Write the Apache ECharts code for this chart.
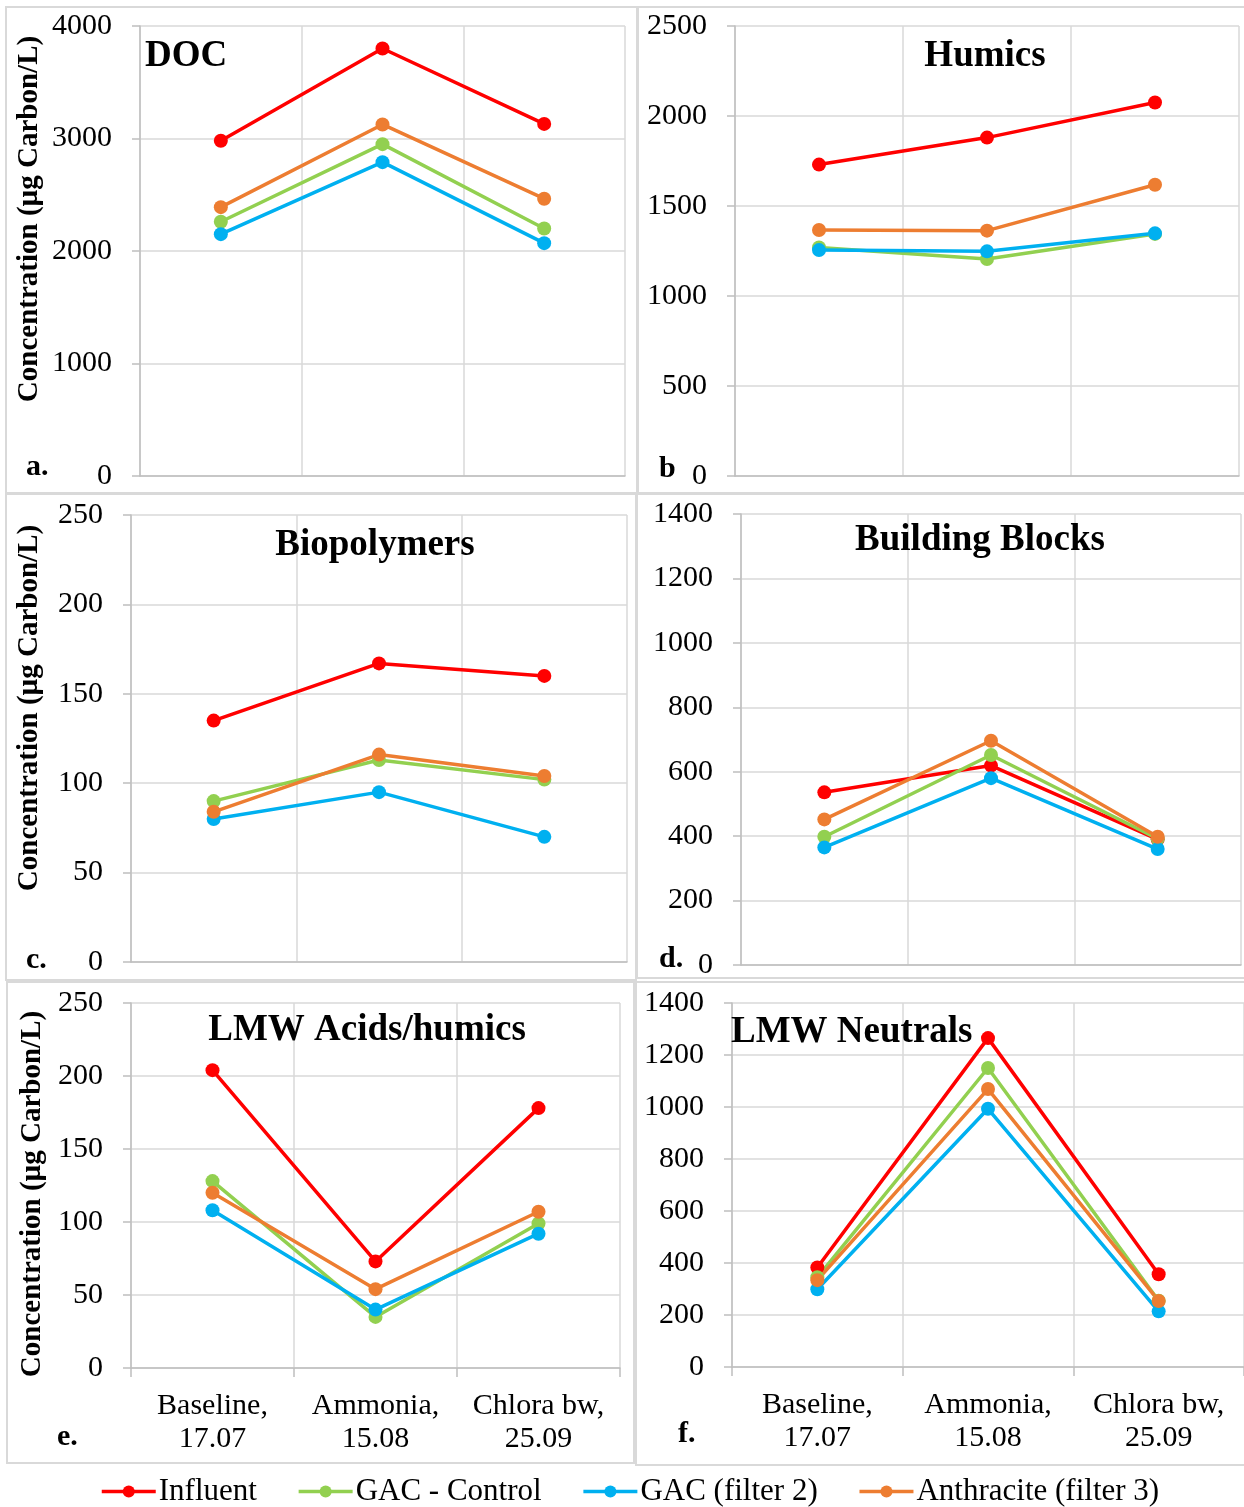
<!DOCTYPE html>
<html>
<head>
<meta charset="utf-8">
<script src="https://cdn.jsdelivr.net/npm/echarts/dist/echarts.min.js"></script>
<style>
  html, body { margin: 0; padding: 0; background: #fff; }
  #chart { width: 1244px; height: 1507px; }
</style>
</head>
<body>
<div id="chart"></div>
<script>
// ---------------- data ----------------
const categories = ['Baseline, 17.07', 'Ammonia, 15.08', 'Chlora bw, 25.09'];
const seriesNames = ['Influent', 'GAC - Control', 'GAC (filter 2)', 'Anthracite (filter 3)'];
const seriesColors = ['#FF0000', '#92D050', '#00B0F0', '#ED7D31'];

const panelTitles = ['DOC', 'Humics', 'Biopolymers', 'Building Blocks', 'LMW Acids/humics', 'LMW Neutrals'];
const panelLetters = ['a.', 'b', 'c.', 'd.', 'e.', 'f.'];
const yAxisTitle = 'Concentration (µg Carbon/L)';

const axisMax = [4000, 2500, 250, 1400, 250, 1400];
const axisInterval = [1000, 500, 50, 200, 50, 200];

// DOC
const docInfluent = [2980, 3800, 3130];
const docGacControl = [2260, 2950, 2200];
const docGacFilter2 = [2150, 2790, 2070];
const docAnthracite = [2390, 3125, 2465];
// Humics
const humInfluent = [1730, 1880, 2075];
const humGacControl = [1270, 1205, 1345];
const humGacFilter2 = [1255, 1248, 1348];
const humAnthracite = [1367, 1363, 1618];
// Biopolymers
const bioInfluent = [135, 167, 160];
const bioGacControl = [90, 113, 102];
const bioGacFilter2 = [80, 95, 70];
const bioAnthracite = [84, 116, 104];
// Building Blocks
const bbInfluent = [536, 619, 390];
const bbGacControl = [398, 652, 392];
const bbGacFilter2 = [365, 580, 360];
const bbAnthracite = [452, 696, 398];
// LMW Acids/humics
const acidInfluent = [204, 73, 178];
const acidGacControl = [128, 35, 99];
const acidGacFilter2 = [108, 40, 92];
const acidAnthracite = [120, 54, 107];
// LMW Neutrals
const neuInfluent = [383, 1265, 357];
const neuGacControl = [345, 1150, 255];
const neuGacFilter2 = [299, 993, 214];
const neuAnthracite = [334, 1069, 254];

const panelData = [
  [docInfluent, docGacControl, docGacFilter2, docAnthracite],
  [humInfluent, humGacControl, humGacFilter2, humAnthracite],
  [bioInfluent, bioGacControl, bioGacFilter2, bioAnthracite],
  [bbInfluent, bbGacControl, bbGacFilter2, bbAnthracite],
  [acidInfluent, acidGacControl, acidGacFilter2, acidAnthracite],
  [neuInfluent, neuGacControl, neuGacFilter2, neuAnthracite]
];

// ---------------- layout ----------------
const FONT = '"Liberation Serif", "Times New Roman", serif';
const grids = [
  { left: 140, top: 26, width: 485, height: 450 },
  { left: 735, top: 26, width: 504, height: 450 },
  { left: 131, top: 515, width: 496, height: 447 },
  { left: 741, top: 514, width: 500, height: 451 },
  { left: 131, top: 1003, width: 489, height: 365 },
  { left: 732, top: 1003, width: 512, height: 364 }
];
const showXLabels = [false, false, false, false, true, true];

const panelBoxes = [
  { x: 6, y: 7, w: 631, h: 486 },
  { x: 638, y: 7, w: 610, h: 486 },
  { x: 6, y: 494, w: 630, h: 486 },
  { x: 637, y: 494, w: 610, h: 484 },
  { x: 7, y: 982, w: 627, h: 481 },
  { x: 636, y: 982, w: 612, h: 483 }
];
const titlePos = [
  { x: 145, y: 56, align: 'left' },
  { x: 985, y: 56, align: 'center' },
  { x: 375, y: 545, align: 'center' },
  { x: 980, y: 540, align: 'center' },
  { x: 367, y: 1030, align: 'center' },
  { x: 731, y: 1032, align: 'left' }
];
const letterPos = [
  { x: 26, y: 467 }, { x: 659, y: 469 }, { x: 26, y: 960 },
  { x: 659, y: 959 }, { x: 57, y: 1437 }, { x: 678, y: 1434 }
];
const yTitlePos = [ { x: 30, y: 219 }, { x: 30, y: 708 }, { x: 33, y: 1194 } ];

const xAxes = [], yAxes = [], series = [], graphics = [];

grids.forEach((g, i) => {
  xAxes.push({
    type: 'category',
    gridIndex: i,
    data: categories,
    boundaryGap: true,
    axisLine: { show: true, lineStyle: { color: '#bfbfbf', width: 1.5 } },
    axisTick: { show: showXLabels[i], length: 9, alignWithLabel: false, lineStyle: { color: '#bfbfbf', width: 1.5 } },
    axisLabel: {
      show: showXLabels[i],
      interval: 0,
      margin: 22,
      fontFamily: FONT,
      fontSize: 30,
      lineHeight: 33,
      color: '#000',
      formatter: v => v.replace(', ', ',\n')
    },
    splitLine: { show: true, interval: 0, lineStyle: { color: '#d9d9d9', width: 1.5 } }
  });
  yAxes.push({
    type: 'value',
    gridIndex: i,
    min: 0,
    max: axisMax[i],
    interval: axisInterval[i],
    axisLine: { show: true, lineStyle: { color: '#bfbfbf', width: 1.5 } },
    axisTick: { show: true, length: 8, lineStyle: { color: '#bfbfbf', width: 1.5 } },
    axisLabel: { margin: 28, fontFamily: FONT, fontSize: 30, color: '#000', formatter: v => String(v) },
    splitLine: { show: true, lineStyle: { color: '#d9d9d9', width: 1.5 } }
  });
  panelData[i].forEach((vals, s) => {
    series.push({
      type: 'line',
      name: seriesNames[s],
      xAxisIndex: i,
      yAxisIndex: i,
      data: vals,
      symbol: 'circle',
      symbolSize: 14,
      showSymbol: true,
      lineStyle: { color: seriesColors[s], width: 3.5 },
      itemStyle: { color: seriesColors[s] },
      emphasis: { disabled: true },
      animation: false
    });
  });
  const b = panelBoxes[i];
  graphics.push({
    type: 'rect', z: 0, silent: true,
    shape: { x: b.x, y: b.y, width: b.w, height: b.h },
    style: { fill: 'none', stroke: '#d9d9d9', lineWidth: 2 }
  });
  const t = titlePos[i];
  graphics.push({
    type: 'text', z: 10, x: t.x, y: t.y,
    style: { text: panelTitles[i], fontFamily: FONT, fontSize: 37, fontWeight: 'bold', fill: '#000', align: t.align, verticalAlign: 'middle' }
  });
  const l = letterPos[i];
  graphics.push({
    type: 'text', z: 10, x: l.x, y: l.y,
    style: { text: panelLetters[i], fontFamily: FONT, fontSize: 30, fontWeight: 'bold', fill: '#000', align: 'left', verticalAlign: 'middle' }
  });
});

yTitlePos.forEach(p => {
  graphics.push({
    type: 'text', z: 10, x: p.x, y: p.y, rotation: Math.PI / 2,
    style: { text: yAxisTitle, fontFamily: FONT, fontSize: 29, fontWeight: 'bold', fill: '#000', align: 'center', verticalAlign: 'middle' }
  });
});

const chart = echarts.init(document.getElementById('chart'), null, { renderer: 'canvas' });
chart.setOption({
  animation: false,
  backgroundColor: '#fff',
  grid: grids.map(g => Object.assign({ containLabel: false }, g)),
  xAxis: xAxes,
  yAxis: yAxes,
  legend: {
    data: seriesNames,
    left: 100,
    top: 1476,
    padding: 0,
    itemGap: 40,
    itemWidth: 54,
    itemHeight: 15,
    lineStyle: { width: 3.5 },
    textStyle: { fontFamily: FONT, fontSize: 31, color: '#000', padding: [0, 0, 0, -2] }
  },
  graphic: graphics,
  series: series
});
</script>
</body>
</html>
